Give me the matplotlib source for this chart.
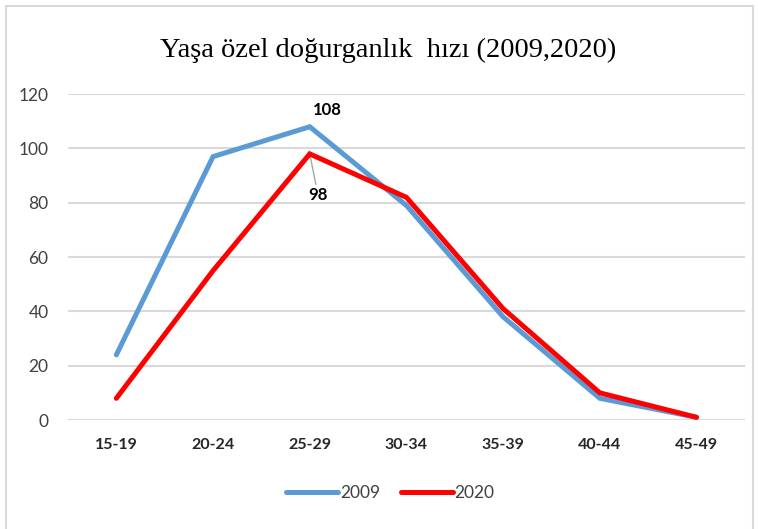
import matplotlib
matplotlib.use('Agg')
import matplotlib.pyplot as plt
from matplotlib.patches import Rectangle

# age groups and rates
age_groups = ['15-19', '20-24', '25-29', '30-34', '35-39', '40-44', '45-49']
rate_2009 = [24, 97, 108, 79, 38, 8, 1]
rate_2020 = [8, 55, 98, 82, 41, 10, 1]
y_ticks = [0, 20, 40, 60, 80, 100, 120]

label_font = ['Lato', 'DejaVu Sans']

fig = plt.figure(figsize=(7.58, 5.29), dpi=100)
ax = fig.add_axes([0.0897, 0.206, 0.893, 0.616])

x = list(range(len(age_groups)))
ax.plot(x, rate_2009, color='#5B9BD5', lw=3.6, solid_capstyle='round',
        solid_joinstyle='miter', label='2009', zorder=3)
ax.plot(x, rate_2020, color='#FF0000', lw=3.6, solid_capstyle='round',
        solid_joinstyle='miter', label='2020', zorder=4)

# data labels at the peak
ax.annotate(str(rate_2009[2]), (x[2], rate_2009[2]), xytext=(2, 6),
            textcoords='offset points', fontsize=12, fontweight='bold',
            family=label_font, ha='left', va='bottom')
ax.annotate(str(rate_2020[2]), (x[2], rate_2020[2]), xytext=(6, -24),
            textcoords='offset points', fontsize=12, fontweight='bold',
            family=label_font, ha='center', va='top',
            arrowprops=dict(arrowstyle='-', color='#A6A6A6', lw=1,
                            shrinkA=0, shrinkB=0))

ax.set_xlim(-0.5, len(age_groups) - 0.5)
ax.set_ylim(0, 120)
ax.set_yticks(y_ticks)
ax.set_xticks(x)
ax.set_xticklabels(age_groups, fontweight='bold', fontsize=11.5,
                   family=label_font, color='#262626')
ax.set_yticklabels([str(v) for v in y_ticks], fontsize=12.5,
                   family=label_font, color='#404040')
ax.tick_params(axis='both', length=0)
ax.tick_params(axis='y', pad=14)
ax.tick_params(axis='x', pad=13)
ax.grid(axis='y', color='#D9D9D9', lw=1.5)
ax.set_axisbelow(True)
for s in ax.spines.values():
    s.set_visible(False)

fig.text(0.512, 0.905, 'Yaşa özel doğurganlık  hızı (2009,2020)',
         family='Liberation Serif', fontsize=20.5, ha='center', va='center')

leg = fig.legend(loc='center', bbox_to_anchor=(0.515, 0.068), ncol=2,
                 frameon=False, handlelength=3.0, handletextpad=0.1,
                 columnspacing=1.2, prop={'family': label_font, 'size': 12.5})
for t in leg.get_texts():
    t.set_color('#404040')

# outer chart frame
fig.add_artist(Rectangle((0.008, -0.01), 0.985, 0.998, transform=fig.transFigure,
                         fill=False, edgecolor='#D9D9D9', lw=1.5))

fig.savefig('out.png', dpi=100)
